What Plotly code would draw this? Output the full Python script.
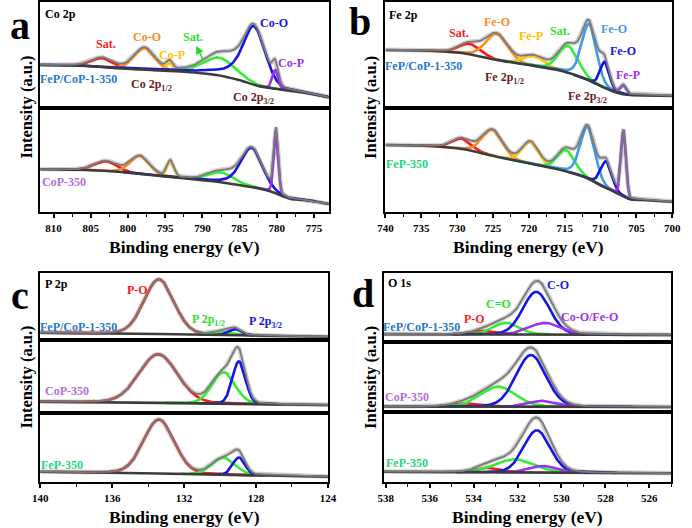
import numpy as np
import plotly.graph_objects as go

W, H = 692, 528

RED, ORANGE, GOLD, GREEN = "#ff1a1a", "#ff8c1a", "#ffc20e", "#33ee33"
BLUE, LBLUE, PURPLE = "#1414e6", "#3d9be9", "#9b30ee"
BG_COL, ENV_COL, RAW_COL = "#3c3c3c", "#7a7a7a", "#d0d0d0"

# ---------------- Panel a : Co 2p ----------------
A_RANGE = [811.8, 773.0]
A_COLORS = [RED, ORANGE, GOLD, GREEN, BLUE, PURPLE]
A1_CENTER = [803.45, 797.8, 794.4, 787.7, 783.1, 780.2]
A1_HEIGHT = [9.0, 21.4, 8.0, 18.0, 58.7, 18.7]
A1_FWHM = [3.3, 3.2, 1.0, 5.0, 3.6, 0.9]
A1_TAIL = [0.2, 0.2, 0.1, 0.3, 0.8, 0.2]
A1_BG_X = [811.8, 805.6, 801.3, 796.9, 792.5, 788.1, 785.1, 782.5, 780.7, 779.0, 777.3, 775.1, 773.0]
A1_BG_Y = [42.7, 42.0, 39.4, 37.7, 36.0, 32.7, 27.7, 21.7, 19.4, 17.7, 16.0, 13.4, 10.4]
A2_CENTER = [803.0, 798.4, 794.3, 787.5, 783.4, 780.1]
A2_HEIGHT = [9.8, 18.0, 16.0, 10.0, 39.5, 62.6]
A2_FWHM = [3.5, 3.0, 1.1, 4.0, 3.4, 0.7]
A2_TAIL = [0.2, 0.2, 0.1, 0.3, 0.4, 0.2]
A2_BG_X = [811.8, 805.6, 801.3, 796.9, 792.5, 788.1, 785.1, 782.5, 780.7, 779.0, 778.1, 776.4, 774.6, 773.0]
A2_BG_Y = [43.0, 42.3, 40.6, 37.3, 34.0, 30.6, 27.3, 24.0, 20.6, 15.6, 13.3, 12.3, 10.6, 8.3]

# ---------------- Panel b : Fe 2p ----------------
B_RANGE = [740.0, 700.0]
B_COLORS = [RED, ORANGE, GOLD, GREEN, LBLUE, BLUE, PURPLE]
B1_CENTER = [728.2, 724.5, 719.3, 714.5, 711.6, 709.4, 706.8]
B1_HEIGHT = [10.7, 26.0, 9.7, 27.0, 56.7, 26.0, 8.7]
B1_FWHM = [3.5, 3.6, 3.5, 3.2, 2.4, 1.5, 1.0]
B1_TAIL = [0.2, 0.2, 0.2, 0.2, 0.3, 0.2, 0.2]
B1_BG_X = [740.0, 733.6, 729.1, 724.5, 720.0, 715.5, 712.3, 709.6, 707.7, 705.9, 700.0]
B1_BG_Y = [57.7, 57.0, 54.4, 47.7, 42.7, 37.0, 29.4, 20.4, 15.0, 12.7, 12.0]
B2_CENTER = [729.4, 725.1, 719.8, 714.8, 711.8, 709.2, 706.8]
B2_HEIGHT = [10.5, 26.0, 21.6, 21.3, 51.6, 26.6, 66.0]
B2_FWHM = [3.2, 3.3, 2.7, 2.8, 2.4, 1.8, 0.8]
B2_TAIL = [0.2, 0.2, 0.2, 0.2, 0.3, 0.2, 0.2]
B2_BG_X = [740.0, 733.6, 729.1, 724.5, 720.0, 715.5, 712.3, 709.6, 707.7, 705.9, 704.1, 700.0]
B2_BG_Y = [67.3, 66.3, 63.0, 55.6, 49.0, 42.3, 35.6, 25.6, 19.0, 13.0, 12.3, 10.6]

# ---------------- Panel c : P 2p ----------------
C_RANGE = [140.0, 124.0]
C_COLORS = [RED, GREEN, BLUE]
C1_CENTER = [133.4, 129.86, 129.14]
C1_HEIGHT = [54.7, 3.7, 6.1]
C1_FWHM = [1.95, 1.2, 0.8]
C1_TAIL = [0.1, 0.1, 0.1]
C1_BG_X = [140.0, 133.4, 124.0]
C1_BG_Y = [7.3, 6.0, 3.3]
C2_CENTER = [133.44, 129.8, 128.95]
C2_HEIGHT = [48.7, 31.5, 42.5]
C2_FWHM = [2.5, 1.5, 0.85]
C2_TAIL = [0.1, 0.1, 0.1]
C2_BG_X = [140.0, 133.4, 124.0]
C2_BG_Y = [11.0, 9.8, 7.7]
C3_CENTER = [133.4, 129.8, 128.95]
C3_HEIGHT = [54.0, 17.0, 17.6]
C3_FWHM = [2.0, 1.5, 0.8]
C3_TAIL = [0.1, 0.1, 0.1]
C3_BG_X = [140.0, 133.4, 124.0]
C3_BG_Y = [10.6, 8.8, 5.6]

# ---------------- Panel d : O 1s ----------------
D_RANGE = [538.1, 525.0]
D_COLORS = [RED, GREEN, BLUE, PURPLE]
D1_CENTER = [533.49, 532.53, 531.15, 530.75]
D1_HEIGHT = [3.7, 11.7, 42.7, 11.7]
D1_FWHM = [1.3, 1.4, 1.44, 1.7]
D1_TAIL = [0.1, 0.1, 0.1, 0.1]
D1_BG_X = [538.1, 525.0]
D1_BG_Y = [7.6, 6.8]
D2_CENTER = [534.26, 532.87, 531.39, 530.83]
D2_HEIGHT = [3.4, 20.0, 51.7, 6.0]
D2_FWHM = [1.5, 1.85, 1.6, 1.5]
D2_TAIL = [0.1, 0.1, 0.1, 0.1]
D2_BG_X = [538.1, 525.0]
D2_BG_Y = [5.3, 4.7]
D3_CENTER = [533.27, 532.13, 531.12, 530.83]
D3_HEIGHT = [4.6, 13.0, 42.3, 6.6]
D3_FWHM = [1.3, 2.1, 1.4, 1.5]
D3_TAIL = [0.1, 0.1, 0.1, 0.1]
D3_BG_X = [538.1, 525.0]
D3_BG_Y = [10.6, 9.0]

# ---------------- layout boxes (pixels) ----------------
SUBPLOTS = [
    (33, 329, 2, 107.7, A_RANGE, A1_CENTER, A1_HEIGHT, A1_FWHM, A1_TAIL, A_COLORS, A1_BG_X, A1_BG_Y, False, 775, 5, 2.5),
    (33, 329, 107.7, 212.3, A_RANGE, A2_CENTER, A2_HEIGHT, A2_FWHM, A2_TAIL, A_COLORS, A2_BG_X, A2_BG_Y, True, 775, 5, 2.5),
    (387, 681, 2, 107.7, B_RANGE, B1_CENTER, B1_HEIGHT, B1_FWHM, B1_TAIL, B_COLORS, B1_BG_X, B1_BG_Y, False, 700, 5, 2.5),
    (387, 681, 107.7, 212.3, B_RANGE, B2_CENTER, B2_HEIGHT, B2_FWHM, B2_TAIL, B_COLORS, B2_BG_X, B2_BG_Y, True, 700, 5, 2.5),
    (33, 328, 272.7, 340, C_RANGE, C1_CENTER, C1_HEIGHT, C1_FWHM, C1_TAIL, C_COLORS, C1_BG_X, C1_BG_Y, False, 124, 4, 2),
    (33, 328, 340, 412.7, C_RANGE, C2_CENTER, C2_HEIGHT, C2_FWHM, C2_TAIL, C_COLORS, C2_BG_X, C2_BG_Y, False, 124, 4, 2),
    (33, 328, 412.7, 482.3, C_RANGE, C3_CENTER, C3_HEIGHT, C3_FWHM, C3_TAIL, C_COLORS, C3_BG_X, C3_BG_Y, True, 124, 4, 2),
    (385, 680, 272.7, 341.7, D_RANGE, D1_CENTER, D1_HEIGHT, D1_FWHM, D1_TAIL, D_COLORS, D1_BG_X, D1_BG_Y, False, 526, 2, 1),
    (385, 680, 341.7, 411.7, D_RANGE, D2_CENTER, D2_HEIGHT, D2_FWHM, D2_TAIL, D_COLORS, D2_BG_X, D2_BG_Y, False, 526, 2, 1),
    (385, 680, 411.7, 482.3, D_RANGE, D3_CENTER, D3_HEIGHT, D3_FWHM, D3_TAIL, D_COLORS, D3_BG_X, D3_BG_Y, True, 526, 2, 1),
]

SERIF = "Liberation Serif"


def peak(x, c, h, w, tail):
    # Gaussian-Lorentzian line; the Lorentzian share "tail" applies on the high-BE side
    g = np.exp(-4 * np.log(2) * ((x - c) / w) ** 2)
    lz = 1.0 / (1.0 + 4 * ((x - c) / w) ** 2)
    m = np.where(x > c, tail, 0.1)
    return h * ((1 - m) * g + m * lz)


fig = go.Figure()
layout = {}
for i, (x0, x1, y0, y1, xr, cen, hei, fw, tl, cols, bgx, bgy, bottom, t0, dt, mn) in enumerate(SUBPLOTS):
    n = i + 1
    xa = "x" if n == 1 else f"x{n}"
    ya = "y" if n == 1 else f"y{n}"
    lo, hi = min(bgx), max(bgx)
    x = np.linspace(lo, hi, 900)
    order = np.argsort(bgx)
    base = np.interp(x, np.array(bgx)[order], np.array(bgy)[order])
    comps = [peak(x, c, h, w, t) for c, h, w, t in zip(cen, hei, fw, tl)]
    env = base + np.sum(comps, axis=0)
    fig.add_trace(go.Scatter(x=x, y=env, mode="lines", xaxis=xa, yaxis=ya,
                             line=dict(color=RAW_COL, width=4.5), hoverinfo="skip", showlegend=False))
    for comp, c, w, col in zip(comps, cen, fw, cols):
        m = comp > 0.15
        fig.add_trace(go.Scatter(x=x[m], y=(base + comp)[m], mode="lines", xaxis=xa, yaxis=ya,
                                 line=dict(color=col, width=2.6), showlegend=False))
    fig.add_trace(go.Scatter(x=bgx, y=bgy, mode="lines", xaxis=xa, yaxis=ya,
                             line=dict(color=BG_COL, width=2.6, shape="spline", smoothing=0.6),
                             showlegend=False))
    fig.add_trace(go.Scatter(x=x, y=env, mode="lines", xaxis=xa, yaxis=ya,
                             line=dict(color=ENV_COL, width=1.8), showlegend=False))
    hpx = y1 - y0
    xkey = "xaxis" if n == 1 else f"xaxis{n}"
    ykey = "yaxis" if n == 1 else f"yaxis{n}"
    xd = dict(domain=[x0 / W, x1 / W], range=xr, anchor=ya, showline=True, mirror=True,
              linecolor="black", linewidth=2, showgrid=False, zeroline=False)
    if bottom:
        xd.update(tickmode="linear", tick0=t0, dtick=dt, ticks="outside", ticklen=4,
                  tickwidth=1.5, tickcolor="black",
                  tickfont=dict(family=SERIF, size=11, color="black", weight="bold"),
                  minor=dict(tick0=t0, dtick=mn, ticks="outside", ticklen=2.5,
                             tickwidth=1.2, tickcolor="black"))
    else:
        xd.update(showticklabels=False, ticks="")
    layout[xkey] = xd
    layout[ykey] = dict(domain=[1 - y1 / H, 1 - y0 / H], range=[0, hpx], anchor=xa,
                        showline=True, mirror=True, linecolor="black", linewidth=2,
                        showgrid=False, zeroline=False, showticklabels=False, ticks="")

MAROON = "#6e1a2c"
SAMPLE_BLUE = "#2577d0"
SAMPLE_PURPLE = "#b36ee0"
SAMPLE_GREEN = "#1fd67c"

LABELS = [
    ("Co 2p", 36, 14, "black", "left"), ("Sat.", 100, 44, RED, "center"), ("Co-O", 142, 37, ORANGE, "center"),
    ("Co-P", 168, 55, "#ffc000", "center"), ("Sat.", 190, 37, "#2fdd2f", "center"), ("Co-O", 273, 23, BLUE, "center"),
    ("Co-P", 290, 63, PURPLE, "center"), ("FeP/CoP-1-350", 72, 79, SAMPLE_BLUE, "center"),
    ("Co 2p<sub>1/2</sub>", 147, 85, MAROON, "center"), ("Co 2p<sub>3/2</sub>", 252, 98, MAROON, "center"),
    ("CoP-350", 57, 182, SAMPLE_PURPLE, "center"),
    ("Fe 2p", 389, 15, "black", "left"), ("Sat.", 462, 33, RED, "center"), ("Fe-O", 501, 22, ORANGE, "center"),
    ("Fe-P", 536, 36, "#ffc000", "center"), ("Sat.", 566, 31, "#2fdd2f", "center"), ("Fe-O", 621, 29, LBLUE, "center"),
    ("Fe-O", 630, 51, BLUE, "center"), ("Fe-P", 636, 75, PURPLE, "center"),
    ("FeP/CoP-1-350", 426, 66, SAMPLE_BLUE, "center"),
    ("Fe 2p<sub>1/2</sub>", 509, 78, MAROON, "center"), ("Fe 2p<sub>3/2</sub>", 594, 97, MAROON, "center"),
    ("FeP-350", 409, 164, SAMPLE_GREEN, "center"),
    ("P 2p", 36, 284, "black", "left"), ("P-O", 133, 290, RED, "center"),
    ("P 2p<sub>1/2</sub>", 206, 320, "#2fdd2f", "center"), ("P 2p<sub>3/2</sub>", 264, 322, BLUE, "center"),
    ("FeP/CoP-1-350", 72, 327, SAMPLE_BLUE, "center"), ("CoP-350", 60, 391, SAMPLE_PURPLE, "center"),
    ("FeP-350", 55, 465, SAMPLE_GREEN, "center"),
    ("O 1s", 388, 283, "black", "left"), ("C-O", 564, 285, BLUE, "center"), ("C=O", 503, 304, "#2fdd2f", "center"),
    ("P-O", 478, 319, RED, "center"), ("Co-O/Fe-O", 596, 317, PURPLE, "center"),
    ("FeP/CoP-1-350", 424, 327, SAMPLE_BLUE, "center"), ("CoP-350", 409, 397, SAMPLE_PURPLE, "center"),
    ("FeP-350", 409, 463, SAMPLE_GREEN, "center"),
]

ann = []
for text, px, py, col, anc in LABELS:
    ann.append(dict(text=text, x=px / W, y=1 - py / H, xref="paper", yref="paper", showarrow=False,
                    xanchor=anc, yanchor="middle",
                    font=dict(family=SERIF, size=12, color=col, weight="bold")))

ann.append(dict(text="", x=193 / W, y=1 - 46 / H, xref="paper", yref="paper", showarrow=True,
                ax=8, ay=16, arrowhead=2, arrowsize=1, arrowwidth=1.6, arrowcolor="#22dd22"))

for letter, px, py in [("a", 12, 26), ("b", 361, 22), ("c", 12, 295), ("d", 364, 293)]:
    ann.append(dict(text=letter, x=px / W, y=1 - py / H, xref="paper", yref="paper", showarrow=False,
                    xanchor="center", yanchor="middle",
                    font=dict(family=SERIF, size=40, color="black", weight="bold")))

for px, py in [(181, 247), (534, 247), (181, 517), (533, 517)]:
    ann.append(dict(text="Binding energy (eV)", x=px / W, y=1 - py / H, xref="paper", yref="paper",
                    showarrow=False, xanchor="center", yanchor="middle",
                    font=dict(family=SERIF, size=17.5, color="black", weight="bold")))
for px, py in [(18, 107), (371, 107), (18, 377), (371, 377)]:
    ann.append(dict(text="Intensity (a.u.)", x=px / W, y=1 - py / H, xref="paper", yref="paper",
                    showarrow=False, xanchor="center", yanchor="middle", textangle=-90,
                    font=dict(family=SERIF, size=16.5, color="black", weight="bold")))

fig.update_layout(width=W, height=H, margin=dict(l=0, r=0, t=0, b=0),
                  paper_bgcolor="white", plot_bgcolor="white", showlegend=False,
                  font=dict(family=SERIF),
                  annotations=ann, **layout)

fig.write_html("out.html", config={"displayModeBar": False},
               post_script="document.body.style.margin='0px';"
               "document.body.style.overflow='hidden';")
